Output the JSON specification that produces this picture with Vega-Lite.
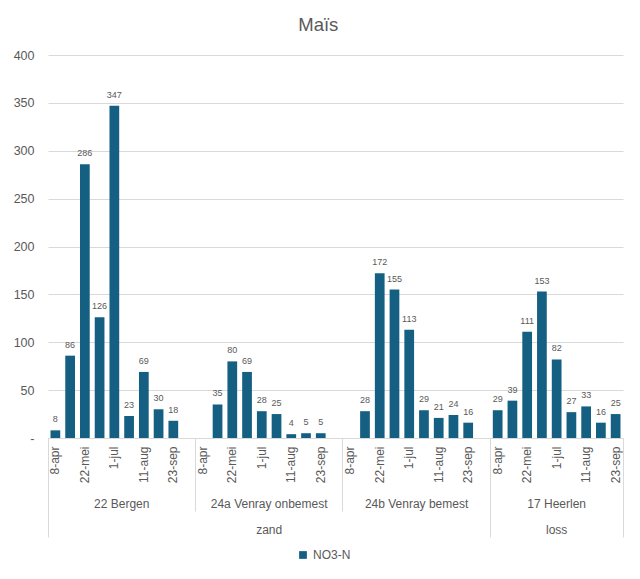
{
"$schema": "https://vega.github.io/schema/vega-lite/v6.json",
"width": 575, "height": 383,
"autosize": {"type": "none"},
"padding": {"left": 48, "top": 55, "right": 17, "bottom": 141},
"background": "white",
"config": {"font": "Liberation Sans", "view": {"stroke": null}},
"title": {"text": "Maïs", "fontSize": 18.5, "fontWeight": "normal", "color": "#595959", "frame": "bounds", "anchor": "middle", "offset": 15},
"data": {"values": [
{"site": "22 Bergen", "soil": "zand", "date": "8-apr", "NO3N": 8},
{"site": "22 Bergen", "soil": "zand", "date": "29-apr", "NO3N": 86},
{"site": "22 Bergen", "soil": "zand", "date": "22-mei", "NO3N": 286},
{"site": "22 Bergen", "soil": "zand", "date": "12-jun", "NO3N": 126},
{"site": "22 Bergen", "soil": "zand", "date": "1-jul", "NO3N": 347},
{"site": "22 Bergen", "soil": "zand", "date": "22-jul", "NO3N": 23},
{"site": "22 Bergen", "soil": "zand", "date": "11-aug", "NO3N": 69},
{"site": "22 Bergen", "soil": "zand", "date": "1-sep", "NO3N": 30},
{"site": "22 Bergen", "soil": "zand", "date": "23-sep", "NO3N": 18},
{"site": "22 Bergen", "soil": "zand", "date": "14-okt", "NO3N": null},
{"site": "24a Venray onbemest", "soil": "zand", "date": "8-apr", "NO3N": null},
{"site": "24a Venray onbemest", "soil": "zand", "date": "29-apr", "NO3N": 35},
{"site": "24a Venray onbemest", "soil": "zand", "date": "22-mei", "NO3N": 80},
{"site": "24a Venray onbemest", "soil": "zand", "date": "12-jun", "NO3N": 69},
{"site": "24a Venray onbemest", "soil": "zand", "date": "1-jul", "NO3N": 28},
{"site": "24a Venray onbemest", "soil": "zand", "date": "22-jul", "NO3N": 25},
{"site": "24a Venray onbemest", "soil": "zand", "date": "11-aug", "NO3N": 4},
{"site": "24a Venray onbemest", "soil": "zand", "date": "1-sep", "NO3N": 5},
{"site": "24a Venray onbemest", "soil": "zand", "date": "23-sep", "NO3N": 5},
{"site": "24a Venray onbemest", "soil": "zand", "date": "14-okt", "NO3N": null},
{"site": "24b Venray bemest", "soil": "zand", "date": "8-apr", "NO3N": null},
{"site": "24b Venray bemest", "soil": "zand", "date": "29-apr", "NO3N": 28},
{"site": "24b Venray bemest", "soil": "zand", "date": "22-mei", "NO3N": 172},
{"site": "24b Venray bemest", "soil": "zand", "date": "12-jun", "NO3N": 155},
{"site": "24b Venray bemest", "soil": "zand", "date": "1-jul", "NO3N": 113},
{"site": "24b Venray bemest", "soil": "zand", "date": "22-jul", "NO3N": 29},
{"site": "24b Venray bemest", "soil": "zand", "date": "11-aug", "NO3N": 21},
{"site": "24b Venray bemest", "soil": "zand", "date": "1-sep", "NO3N": 24},
{"site": "24b Venray bemest", "soil": "zand", "date": "23-sep", "NO3N": 16},
{"site": "24b Venray bemest", "soil": "zand", "date": "14-okt", "NO3N": null},
{"site": "17 Heerlen", "soil": "loss", "date": "8-apr", "NO3N": 29},
{"site": "17 Heerlen", "soil": "loss", "date": "29-apr", "NO3N": 39},
{"site": "17 Heerlen", "soil": "loss", "date": "22-mei", "NO3N": 111},
{"site": "17 Heerlen", "soil": "loss", "date": "12-jun", "NO3N": 153},
{"site": "17 Heerlen", "soil": "loss", "date": "1-jul", "NO3N": 82},
{"site": "17 Heerlen", "soil": "loss", "date": "22-jul", "NO3N": 27},
{"site": "17 Heerlen", "soil": "loss", "date": "11-aug", "NO3N": 33},
{"site": "17 Heerlen", "soil": "loss", "date": "1-sep", "NO3N": 16},
{"site": "17 Heerlen", "soil": "loss", "date": "23-sep", "NO3N": 25}
]},
"transform": [{"calculate": "datum.site + '|' + datum.date", "as": "key"}],
"encoding": {
  "y": {"field": "NO3N", "type": "quantitative",
    "scale": {"domain": [0, 400], "nice": false},
    "axis": {"values": [0, 50, 100, 150, 200, 250, 300, 350, 400], "labelExpr": "datum.value == 0 ? '-\u00a0\u00a0\u00a0' : datum.label", "domain": false, "ticks": false, "labelPadding": 14, "grid": true, "gridColor": "#d9d9d9", "labelFontSize": 12.5, "labelColor": "#595959", "title": null}}
},
"layer": [
  {"mark": {"type": "bar", "width": {"band": 0.66}},
   "encoding": {
     "x": {"field": "key", "type": "nominal",
       "scale": {"paddingInner": 0, "paddingOuter": 0, "domain": ["22 Bergen|8-apr","22 Bergen|29-apr","22 Bergen|22-mei","22 Bergen|12-jun","22 Bergen|1-jul","22 Bergen|22-jul","22 Bergen|11-aug","22 Bergen|1-sep","22 Bergen|23-sep","22 Bergen|14-okt","24a Venray onbemest|8-apr","24a Venray onbemest|29-apr","24a Venray onbemest|22-mei","24a Venray onbemest|12-jun","24a Venray onbemest|1-jul","24a Venray onbemest|22-jul","24a Venray onbemest|11-aug","24a Venray onbemest|1-sep","24a Venray onbemest|23-sep","24a Venray onbemest|14-okt","24b Venray bemest|8-apr","24b Venray bemest|29-apr","24b Venray bemest|22-mei","24b Venray bemest|12-jun","24b Venray bemest|1-jul","24b Venray bemest|22-jul","24b Venray bemest|11-aug","24b Venray bemest|1-sep","24b Venray bemest|23-sep","24b Venray bemest|14-okt","17 Heerlen|8-apr","17 Heerlen|29-apr","17 Heerlen|22-mei","17 Heerlen|12-jun","17 Heerlen|1-jul","17 Heerlen|22-jul","17 Heerlen|11-aug","17 Heerlen|1-sep","17 Heerlen|23-sep"]},
       "axis": {"orient": "bottom", "title": null, "grid": false,
         "values": ["22 Bergen|8-apr","22 Bergen|22-mei","22 Bergen|1-jul","22 Bergen|11-aug","22 Bergen|23-sep","24a Venray onbemest|8-apr","24a Venray onbemest|22-mei","24a Venray onbemest|1-jul","24a Venray onbemest|11-aug","24a Venray onbemest|23-sep","24b Venray bemest|8-apr","24b Venray bemest|22-mei","24b Venray bemest|1-jul","24b Venray bemest|11-aug","24b Venray bemest|23-sep","17 Heerlen|8-apr","17 Heerlen|22-mei","17 Heerlen|1-jul","17 Heerlen|11-aug","17 Heerlen|23-sep"],
         "labelExpr": "split(datum.value, '|')[1]", "labelAngle": -90, "ticks": false, "tickSize": 0, "labelPadding": 8,
         "domain": true, "domainColor": "#d9d9d9", "labelFontSize": 12, "labelColor": "#595959"}},
     "color": {"datum": "NO3-N", "type": "nominal", "scale": {"range": ["#156082"]},
       "legend": {"title": null, "orient": "none", "legendX": 249, "legendY": 494, "direction": "horizontal", "symbolType": "square", "symbolSize": 60, "labelFontSize": 12, "labelColor": "#595959"}}
   }},
  {"mark": {"type": "text", "dy": -8, "baseline": "alphabetic", "fontSize": 9, "color": "#595959"},
   "encoding": {
     "x": {"field": "key", "type": "nominal",
       "scale": {"paddingInner": 0, "paddingOuter": 0, "domain": ["22 Bergen|8-apr","22 Bergen|29-apr","22 Bergen|22-mei","22 Bergen|12-jun","22 Bergen|1-jul","22 Bergen|22-jul","22 Bergen|11-aug","22 Bergen|1-sep","22 Bergen|23-sep","22 Bergen|14-okt","24a Venray onbemest|8-apr","24a Venray onbemest|29-apr","24a Venray onbemest|22-mei","24a Venray onbemest|12-jun","24a Venray onbemest|1-jul","24a Venray onbemest|22-jul","24a Venray onbemest|11-aug","24a Venray onbemest|1-sep","24a Venray onbemest|23-sep","24a Venray onbemest|14-okt","24b Venray bemest|8-apr","24b Venray bemest|29-apr","24b Venray bemest|22-mei","24b Venray bemest|12-jun","24b Venray bemest|1-jul","24b Venray bemest|22-jul","24b Venray bemest|11-aug","24b Venray bemest|1-sep","24b Venray bemest|23-sep","24b Venray bemest|14-okt","17 Heerlen|8-apr","17 Heerlen|29-apr","17 Heerlen|22-mei","17 Heerlen|12-jun","17 Heerlen|1-jul","17 Heerlen|22-jul","17 Heerlen|11-aug","17 Heerlen|1-sep","17 Heerlen|23-sep"]},
       "axis": {"orient": "bottom", "title": null, "grid": false, "labels": false, "domain": false,
         "values": ["22 Bergen|8-apr","24a Venray onbemest|8-apr","24b Venray bemest|8-apr","17 Heerlen|8-apr"],
         "bandPosition": 0, "ticks": true, "tickColor": "#d9d9d9",
         "tickSize": {"condition": {"test": "datum.value == '22 Bergen|8-apr' || datum.value == '17 Heerlen|8-apr'", "value": 99}, "value": 73}}},
     "text": {"field": "NO3N", "type": "quantitative"}
   }},
  {"mark": {"type": "point", "opacity": 0},
   "encoding": {
     "x": {"field": "key", "type": "nominal",
       "scale": {"paddingInner": 0, "paddingOuter": 0, "domain": ["22 Bergen|8-apr","22 Bergen|29-apr","22 Bergen|22-mei","22 Bergen|12-jun","22 Bergen|1-jul","22 Bergen|22-jul","22 Bergen|11-aug","22 Bergen|1-sep","22 Bergen|23-sep","22 Bergen|14-okt","24a Venray onbemest|8-apr","24a Venray onbemest|29-apr","24a Venray onbemest|22-mei","24a Venray onbemest|12-jun","24a Venray onbemest|1-jul","24a Venray onbemest|22-jul","24a Venray onbemest|11-aug","24a Venray onbemest|1-sep","24a Venray onbemest|23-sep","24a Venray onbemest|14-okt","24b Venray bemest|8-apr","24b Venray bemest|29-apr","24b Venray bemest|22-mei","24b Venray bemest|12-jun","24b Venray bemest|1-jul","24b Venray bemest|22-jul","24b Venray bemest|11-aug","24b Venray bemest|1-sep","24b Venray bemest|23-sep","24b Venray bemest|14-okt","17 Heerlen|8-apr","17 Heerlen|29-apr","17 Heerlen|22-mei","17 Heerlen|12-jun","17 Heerlen|1-jul","17 Heerlen|22-jul","17 Heerlen|11-aug","17 Heerlen|1-sep","17 Heerlen|23-sep"]},
       "axis": {"orient": "bottom", "title": null, "grid": false, "labels": false, "domain": false,
         "values": ["17 Heerlen|23-sep"], "bandPosition": 1, "ticks": true, "tickColor": "#d9d9d9", "tickSize": 99}}
   }},
  {"mark": {"type": "point", "opacity": 0},
   "encoding": {
     "x": {"field": "key", "type": "nominal",
       "scale": {"paddingInner": 0, "paddingOuter": 0, "domain": ["22 Bergen|8-apr","22 Bergen|29-apr","22 Bergen|22-mei","22 Bergen|12-jun","22 Bergen|1-jul","22 Bergen|22-jul","22 Bergen|11-aug","22 Bergen|1-sep","22 Bergen|23-sep","22 Bergen|14-okt","24a Venray onbemest|8-apr","24a Venray onbemest|29-apr","24a Venray onbemest|22-mei","24a Venray onbemest|12-jun","24a Venray onbemest|1-jul","24a Venray onbemest|22-jul","24a Venray onbemest|11-aug","24a Venray onbemest|1-sep","24a Venray onbemest|23-sep","24a Venray onbemest|14-okt","24b Venray bemest|8-apr","24b Venray bemest|29-apr","24b Venray bemest|22-mei","24b Venray bemest|12-jun","24b Venray bemest|1-jul","24b Venray bemest|22-jul","24b Venray bemest|11-aug","24b Venray bemest|1-sep","24b Venray bemest|23-sep","24b Venray bemest|14-okt","17 Heerlen|8-apr","17 Heerlen|29-apr","17 Heerlen|22-mei","17 Heerlen|12-jun","17 Heerlen|1-jul","17 Heerlen|22-jul","17 Heerlen|11-aug","17 Heerlen|1-sep","17 Heerlen|23-sep"]},
       "axis": {"orient": "bottom", "title": null, "grid": false, "domain": false, "ticks": false, "tickSize": 0,
         "values": ["22 Bergen|1-jul","24a Venray onbemest|1-jul","24b Venray bemest|1-jul","17 Heerlen|1-jul"],
         "labelExpr": "split(datum.value, '|')[0]", "labelAngle": 0, "labelBaseline": "middle", "labelPadding": 0, "offset": 65,
         "labelOffset": {"condition": {"test": "datum.value == '17 Heerlen|1-jul'", "value": 0}, "value": 7.37},
         "labelFontSize": 12, "labelColor": "#595959"}}
   }},
  {"mark": {"type": "point", "opacity": 0},
   "encoding": {
     "x": {"field": "key", "type": "nominal",
       "scale": {"paddingInner": 0, "paddingOuter": 0, "domain": ["22 Bergen|8-apr","22 Bergen|29-apr","22 Bergen|22-mei","22 Bergen|12-jun","22 Bergen|1-jul","22 Bergen|22-jul","22 Bergen|11-aug","22 Bergen|1-sep","22 Bergen|23-sep","22 Bergen|14-okt","24a Venray onbemest|8-apr","24a Venray onbemest|29-apr","24a Venray onbemest|22-mei","24a Venray onbemest|12-jun","24a Venray onbemest|1-jul","24a Venray onbemest|22-jul","24a Venray onbemest|11-aug","24a Venray onbemest|1-sep","24a Venray onbemest|23-sep","24a Venray onbemest|14-okt","24b Venray bemest|8-apr","24b Venray bemest|29-apr","24b Venray bemest|22-mei","24b Venray bemest|12-jun","24b Venray bemest|1-jul","24b Venray bemest|22-jul","24b Venray bemest|11-aug","24b Venray bemest|1-sep","24b Venray bemest|23-sep","24b Venray bemest|14-okt","17 Heerlen|8-apr","17 Heerlen|29-apr","17 Heerlen|22-mei","17 Heerlen|12-jun","17 Heerlen|1-jul","17 Heerlen|22-jul","17 Heerlen|11-aug","17 Heerlen|1-sep","17 Heerlen|23-sep"]},
       "axis": {"orient": "bottom", "title": null, "grid": false, "domain": false, "ticks": false, "tickSize": 0,
         "values": ["24a Venray onbemest|1-jul","17 Heerlen|1-jul"],
         "labelExpr": "datum.value == '17 Heerlen|1-jul' ? 'loss' : 'zand'", "labelAngle": 0, "labelBaseline": "middle", "labelPadding": 0, "offset": 91,
         "labelOffset": {"condition": {"test": "datum.value == '17 Heerlen|1-jul'", "value": 0}, "value": 7.37},
         "labelFontSize": 12, "labelColor": "#595959"}}
   }}
],
"resolve": {"axis": {"x": "independent"}}
}
